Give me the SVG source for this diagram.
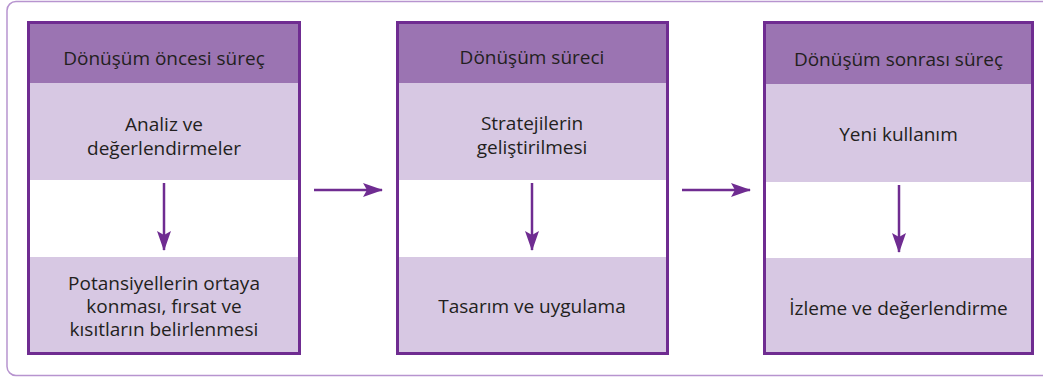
<svg xmlns="http://www.w3.org/2000/svg" width="1043" height="377" viewBox="0 0 1043 377">
<style>
.frame{fill:#ffffff;stroke:#b794cf;stroke-width:1.5}
.head{fill:#9b74b2}
.light{fill:#d7c8e3}
.border{fill:none;stroke:#6f2c91;stroke-width:3}
.t{font-family:"Open Sans","Noto Sans",sans-serif;font-size:19px;fill:#231f20;text-anchor:middle}
.c{stroke:#6f2c91;stroke-width:2.5;fill:none}
</style>
<defs>
<marker id="ah" viewBox="0 0 20 14" refX="19" refY="7" markerWidth="20" markerHeight="14" markerUnits="userSpaceOnUse" orient="auto">
<path d="M0,0 L20,7 L0,14 L4,7 Z" fill="#6f2c91"/>
</marker>
</defs>
<rect class="frame" x="7" y="1.5" width="1060" height="374" rx="9"/>
<g id="box1">
<rect class="head" x="28" y="22" width="272" height="61"/>
<rect class="light" x="28" y="83" width="272" height="97"/>
<rect fill="#ffffff" x="28" y="180" width="272" height="77"/>
<rect class="light" x="28" y="257" width="272" height="97"/>
<rect class="border" x="28.5" y="22.5" width="271" height="331"/>
<text class="t" x="164" y="65">Dönüşüm öncesi süreç</text>
<text class="t" x="164" y="131">Analiz ve</text>
<text class="t" x="164" y="155">değerlendirmeler</text>
<text class="t" x="164" y="290">Potansiyellerin ortaya</text>
<text class="t" x="164" y="313">konması, fırsat ve</text>
<text class="t" x="164" y="336">kısıtların belirlenmesi</text>
</g>
<g id="box2">
<rect class="head" x="397" y="22" width="271" height="61"/>
<rect class="light" x="397" y="83" width="271" height="97"/>
<rect fill="#ffffff" x="397" y="180" width="271" height="77"/>
<rect class="light" x="397" y="257" width="271" height="97"/>
<rect class="border" x="397.5" y="22.5" width="270" height="331"/>
<text class="t" x="532" y="64">Dönüşüm süreci</text>
<text class="t" x="532" y="130">Stratejilerin</text>
<text class="t" x="532" y="154">geliştirilmesi</text>
<text class="t" x="532" y="313">Tasarım ve uygulama</text>
</g>
<g id="box3">
<rect class="head" x="764" y="22" width="269" height="62"/>
<rect class="light" x="764" y="84" width="269" height="98"/>
<rect fill="#ffffff" x="764" y="182" width="269" height="76"/>
<rect class="light" x="764" y="258" width="269" height="96"/>
<rect class="border" x="764.5" y="22.5" width="268" height="331"/>
<text class="t" x="898.5" y="66">Dönüşüm sonrası süreç</text>
<text class="t" x="898.5" y="141">Yeni kullanım</text>
<text class="t" x="898.5" y="315">İzleme ve değerlendirme</text>
</g>
<g id="connectors">
<line class="c" x1="164" y1="183" x2="164" y2="250" marker-end="url(#ah)"/>
<line class="c" x1="532" y1="183" x2="532" y2="250" marker-end="url(#ah)"/>
<line class="c" x1="899" y1="185" x2="899" y2="252" marker-end="url(#ah)"/>
<line class="c" x1="314" y1="190" x2="382" y2="190" marker-end="url(#ah)"/>
<line class="c" x1="682" y1="190" x2="750" y2="190" marker-end="url(#ah)"/>
</g>
</svg>
